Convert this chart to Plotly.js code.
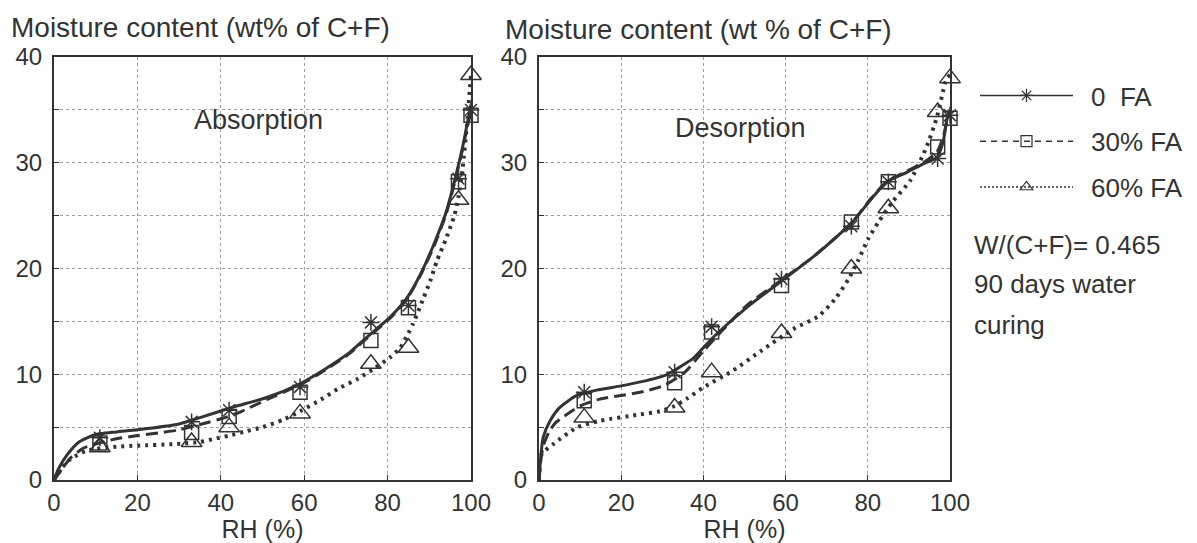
<!DOCTYPE html>
<html>
<head>
<meta charset="utf-8">
<script src="https://cdn.plot.ly/plotly-3.0.1.min.js"></script>
<style>html,body{margin:0;padding:0;background:#fff;}#chart{width:1197px;height:543px;}</style>
</head>
<body>
<div id="chart"></div>
<script>
// ---------- data ----------
const seriesNames = ['\u20020  FA', '\u200230% FA', '\u200260% FA'];
const rhPoints = [11, 33, 42, 59, 76, 85, 97, 100];

// Absorption measured points
const absFA0  = [4.0, 5.5, 6.6, 8.8, 14.9, 16.5, 28.5, 35.0];
const absFA30 = [3.5, 4.5, 6.0, 8.3, 13.2, 16.3, 28.2, 34.5];
const absFA60 = [3.1, 3.6, 5.0, 6.3, 11.0, 12.5, 26.5, 38.3];

// Desorption measured points
const desFA0  = [8.3, 10.2, 14.5, 19.0, 24.0, 28.2, 30.4, 34.5];
const desFA30 = [7.5, 9.2, 14.0, 18.4, 24.4, 28.2, 31.5, 34.2];
const desFA60 = [5.9, 6.85, 10.2, 13.9, 20.0, 25.7, 34.8, 38.0];

// Absorption fitted curves
const absCurveX0 = [0, 1, 3, 6, 10, 15, 20, 30, 35, 43, 51, 59, 63, 67, 71, 75, 80.6, 84.6, 87.8, 91, 94, 96, 98, 99, 100];
const absCurveY0 = [0, 1.0, 2.3, 3.6, 4.3, 4.55, 4.75, 5.3, 5.9, 6.9, 7.8, 9.1, 10.0, 11.0, 12.1, 13.5, 15.4, 17.2, 19.4, 22.2, 25.3, 28.2, 31.5, 33.5, 35.5];
const absCurveX30 = [0, 2, 4, 7, 10, 15, 20, 25, 30, 35, 41, 45, 51, 59, 63, 67, 71, 75, 80.6, 84.6, 87.8, 91, 94, 96, 98, 99, 100];
const absCurveY30 = [0, 1.1, 2.1, 3.0, 3.4, 3.9, 4.2, 4.45, 4.75, 5.25, 5.9, 6.5, 7.6, 9.0, 9.9, 10.9, 12.0, 13.4, 15.3, 17.1, 19.3, 22.0, 25.1, 28.0, 31.3, 33.2, 34.8];
const absCurveX60 = [0, 2, 4, 8, 15, 20, 29, 35, 38, 42, 46, 50, 55, 59, 64, 68, 73, 77, 80.6, 83, 85, 86, 87.4, 88.6, 90.2, 91.8, 94, 96, 97, 98, 99, 100];
const absCurveY60 = [0, 1.2, 2.0, 2.8, 3.15, 3.25, 3.4, 3.6, 3.85, 4.2, 4.6, 5.0, 5.7, 6.5, 7.6, 8.6, 9.6, 10.6, 11.6, 12.5, 13.9, 14.7, 16.0, 17.2, 18.8, 20.7, 22.8, 25.0, 26.8, 29.5, 33.5, 38.3];

// Desorption fitted curves
const desCurveX0 = [0, 0.5, 1, 2.7, 5, 9, 14, 20, 25, 31, 34.3, 37.5, 42.4, 50.5, 58.6, 66.7, 72.4, 76.5, 80.5, 84.6, 89.5, 93.5, 96.8, 98.4, 99.2, 100];
const desCurveY0 = [0, 2.5, 4.0, 5.6, 6.85, 7.95, 8.5, 8.9, 9.3, 9.95, 10.7, 11.5, 13.5, 16.3, 18.7, 21.1, 23.0, 24.5, 26.4, 28.2, 29.1, 29.9, 30.5, 32.1, 34.0, 35.0];
const desCurveX30 = [0, 0.5, 1, 2.5, 4, 6.3, 10, 14.8, 20, 24.6, 30.2, 35.5, 40, 45, 50.5, 58.6, 66.7, 72.4, 76.5, 80.5, 84.6, 89.5, 93.5, 96.8, 98.4, 99.2, 100];
const desCurveY30 = [0, 2.0, 3.2, 4.6, 5.4, 6.07, 7.0, 7.65, 8.0, 8.3, 8.9, 10.2, 12.2, 14.3, 16.5, 18.8, 21.1, 23.0, 24.5, 26.5, 28.2, 29.2, 30.0, 31.0, 32.5, 33.8, 34.4];
const desCurveX60 = [0, 0.6, 3.5, 9.2, 14.8, 24.6, 29.4, 33, 36, 40, 47, 54, 62, 68, 72, 75.3, 77.7, 80.1, 82.6, 86.2, 90.3, 94.3, 96.8, 98.4, 99.2, 100];
const desCurveY60 = [0, 2.4, 3.4, 4.96, 5.6, 6.2, 6.5, 7.0, 7.7, 8.75, 10.3, 12.2, 14.3, 15.5, 17.1, 19.0, 20.8, 22.8, 24.4, 26.4, 28.3, 31.5, 34.3, 36.9, 38.0, 38.3];

// ticks and labels
const xTickVals = [0, 20, 40, 60, 80, 100];
const xTickText = ['0', '20', '40', '60', '80', '100'];
const yTickVals = [0, 5, 10, 15, 20, 25, 30, 35, 40];
const yTickText = ['0', '', '10', '', '20', '', '30', '', '40'];
const panelLabels = ['Absorption', 'Desorption'];
const yTitles = ['Moisture content (wt% of C+F)', 'Moisture content (wt % of C+F)'];
const xTitle = 'RH (%)';
const noteLines = ['W/(C+F)= 0.465', '90 days water', 'curing'];

// ---------- styles ----------
const INK = '#333';
const FONT = 'Liberation Sans, Arial, Helvetica, sans-serif';
const dashes = ['solid', '12px,6px', '3px,5px'];
const widths = [3, 3, 4];
const symbols = ['asterisk-open', 'square-open', 'triangle-up-open'];
const sizes = [14, 14, 18];

const curves = [
  [[absCurveX0, absCurveY0], [absCurveX30, absCurveY30], [absCurveX60, absCurveY60]],
  [[desCurveX0, desCurveY0], [desCurveX30, desCurveY30], [desCurveX60, desCurveY60]]
];
const points = [[absFA0, absFA30, absFA60], [desFA0, desFA30, desFA60]];
const axes = [['x', 'y'], ['x2', 'y2']];

const traces = [];
for (let p = 0; p < 2; p++) {
  for (let s = 0; s < 3; s++) {
    traces.push({
      x: curves[p][s][0], y: curves[p][s][1], xaxis: axes[p][0], yaxis: axes[p][1],
      mode: 'lines', showlegend: false, hoverinfo: 'skip',
      line: {color: INK, width: widths[s], dash: dashes[s], shape: 'spline', smoothing: 0.6}
    });
    traces.push({
      x: rhPoints, y: points[p][s], xaxis: axes[p][0], yaxis: axes[p][1],
      mode: 'markers', showlegend: false, cliponaxis: false,
      marker: {symbol: symbols[s], size: sizes[s], color: INK, line: {color: INK, width: 1.5}}
    });
  }
}
// legend entries
const legendDash = ['solid', '6px,5px', '2px,2px'];
for (let s = 0; s < 3; s++) {
  traces.push({
    x: [null], y: [null], xaxis: 'x2', yaxis: 'y2', mode: 'lines+markers', name: seriesNames[s],
    legendgroup: 'g' + s,
    line: {color: INK, width: 1.5, dash: legendDash[s]},
    marker: {symbol: symbols[s], size: 11, color: INK, line: {color: INK, width: 1.2}}
  });
}

function xAxis(domain, anchor) {
  return {
    domain: domain, anchor: anchor, range: [0, 100], fixedrange: true,
    tickvals: xTickVals, ticktext: xTickText, ticks: 'inside', ticklen: 5, tickcolor: INK,
    showline: true, linecolor: INK, linewidth: 2, mirror: true,
    showgrid: true, gridcolor: '#a0a0a0', griddash: 'dot', gridwidth: 1,
    zeroline: false, tickfont: {size: 24, color: INK, family: FONT},
    ticklabelstandoff: 0,
    title: {text: xTitle, font: {size: 25, color: INK, family: FONT}, standoff: 0}
  };
}
function yAxis(anchor) {
  return {
    domain: [0.116, 0.895], anchor: anchor, range: [0, 40], fixedrange: true,
    tickvals: yTickVals, ticktext: yTickText, ticks: 'inside', ticklen: 5, tickcolor: INK,
    showline: true, linecolor: INK, linewidth: 2, mirror: true,
    showgrid: true, gridcolor: '#a0a0a0', griddash: 'dot', gridwidth: 1,
    zeroline: false, tickfont: {size: 24, color: INK, family: FONT},
    ticklabelstandoff: 5
  };
}

const annotations = [
  {text: panelLabels[0], xref: 'x', yref: 'y', x: 49, y: 34, showarrow: false, font: {size: 27, color: INK, family: FONT}},
  {text: panelLabels[1], xref: 'x2', yref: 'y2', x: 49, y: 33.3, showarrow: false, font: {size: 27, color: INK, family: FONT}},
  {text: yTitles[0], xref: 'paper', yref: 'paper', x: 9 / 1197, y: 1 - 28 / 543, xanchor: 'left', yanchor: 'middle', showarrow: false, font: {size: 28, color: INK, family: FONT}},
  {text: yTitles[1], xref: 'paper', yref: 'paper', x: 503 / 1197, y: 1 - 30 / 543, xanchor: 'left', yanchor: 'middle', showarrow: false, font: {size: 28, color: INK, family: FONT}}
];
const noteY = [245, 284, 325];
noteLines.forEach((t, i) => annotations.push({
  text: t, xref: 'paper', yref: 'paper', x: 972 / 1197, y: 1 - noteY[i] / 543,
  xanchor: 'left', yanchor: 'middle', showarrow: false, font: {size: 26, color: INK, family: FONT}
}));

const layout = {
  width: 1197, height: 543,
  margin: {l: 0, r: 0, t: 0, b: 0, pad: 0},
  paper_bgcolor: '#fff', plot_bgcolor: '#fff',
  font: {family: FONT, color: INK},
  xaxis: xAxis([54 / 1197, 471 / 1197], 'y'),
  yaxis: yAxis('x'),
  xaxis2: xAxis([539 / 1197, 950 / 1197], 'y2'),
  yaxis2: yAxis('x2'),
  showlegend: true,
  legend: {
    x: 975 / 1197, y: 1 - 72 / 543, xanchor: 'left', yanchor: 'top',
    bgcolor: 'rgba(0,0,0,0)', borderwidth: 0, itemwidth: 93,
    tracegroupgap: 9, font: {size: 26, color: INK, family: FONT},
    itemclick: false, itemdoubleclick: false
  },
  annotations: annotations
};

Plotly.newPlot('chart', traces, layout, {displayModeBar: false, staticPlot: true});
</script>
</body>
</html>
